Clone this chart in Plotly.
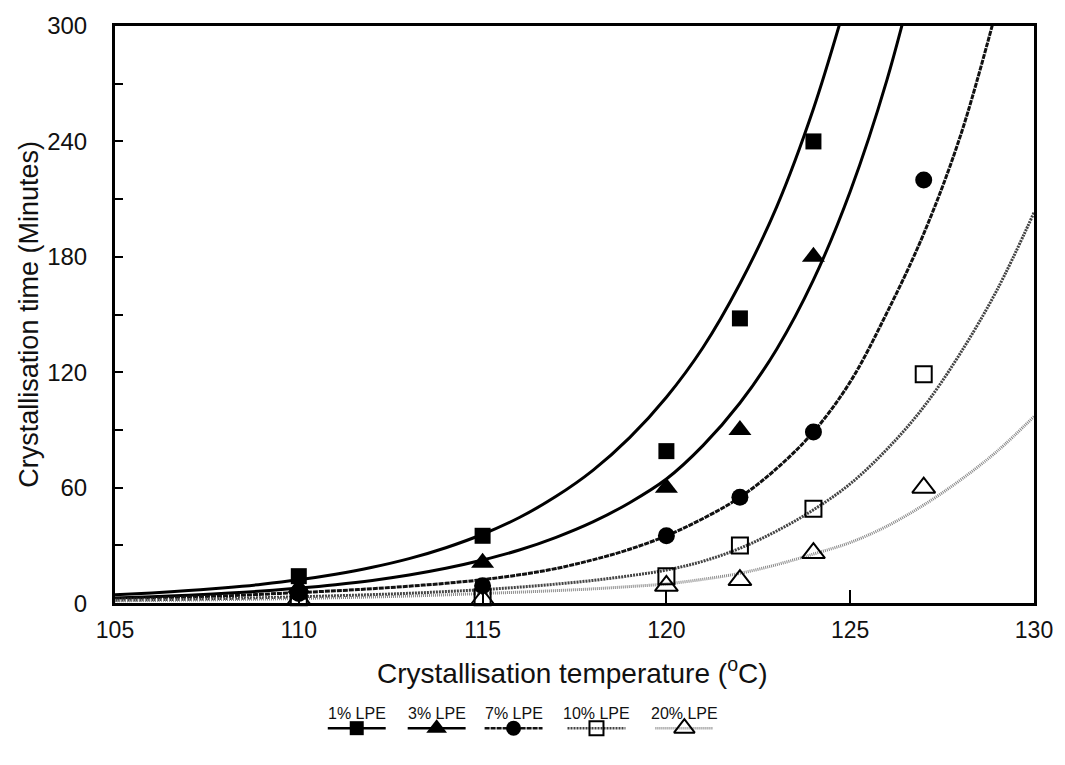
import plotly.graph_objects as go

# ---------------- data ----------------
series_names = ["1% LPE", "3% LPE", "7% LPE", "10% LPE", "20% LPE"]

# measured points
t_1 = [110, 115, 120, 122, 124]
v_1 = [14, 35, 79, 148, 240]
t_3 = [110, 115, 120, 122, 124]
v_3 = [8, 21, 60, 90, 180]
t_7 = [110, 115, 120, 122, 124, 127]
v_7 = [5, 9, 35, 55, 89, 220]
t_10 = [110, 115, 120, 122, 124, 127]
v_10 = [3, 3, 14, 30, 49, 119]
t_20 = [110, 115, 120, 122, 124, 127]
v_20 = [2, 2, 9, 12, 26, 60]

# fitted curves
ct_1 = [105, 106, 107, 108, 109, 110, 111, 112, 113, 114, 115, 116, 117, 118, 119, 120, 121, 122, 123, 124, 125]
cv_1 = [4.3, 5.3, 6.5, 8.0, 9.8, 12.1, 15.0, 18.6, 23.1, 28.8, 35.8, 44.5, 55.5, 69, 86, 107, 133, 166, 206, 257, 320]
ct_3 = [105, 106, 107, 108, 109, 110, 111, 112, 113, 114, 115, 116, 117, 118, 119, 120, 121, 122, 123, 124, 125, 126, 127]
cv_3 = [2.7, 3.3, 4.1, 5.1, 6.3, 7.8, 9.6, 11.8, 14.6, 18.1, 22.4, 27.6, 34.2, 42.2, 52.2, 64.5, 82, 104, 132, 168, 214, 272, 345]
ct_7 = [105, 106, 107, 108, 109, 110, 111, 112, 113, 114, 115, 116, 117, 118, 119, 120, 121, 122, 123, 124, 125, 126, 127, 128, 129]
cv_7 = [2.3, 2.7, 3.2, 3.8, 4.6, 5.5, 6.4, 7.5, 8.8, 10.3, 12.2, 14.7, 18, 22.5, 28, 35, 44, 55, 70, 89, 115, 151, 192, 243, 310]
ct_10 = [105, 106, 107, 108, 109, 110, 111, 112, 113, 114, 115, 116, 117, 118, 119, 120, 121, 122, 123, 124, 125, 126, 127, 128, 129, 130]
cv_10 = [1.5, 1.75, 2.05, 2.4, 2.8, 3.3, 3.8, 4.4, 5.1, 6.0, 7.0, 8.3, 9.9, 11.8, 14.2, 17.2, 21.8, 28.5, 37.5, 48.5, 62, 80, 102, 130, 163, 203]
ct_20 = [105, 106, 107, 108, 109, 110, 111, 112, 113, 114, 115, 116, 117, 118, 119, 120, 121, 122, 123, 124, 125, 126, 127, 128, 129, 130]
cv_20 = [1.2, 1.4, 1.6, 1.85, 2.1, 2.4, 2.8, 3.2, 3.7, 4.3, 5.0, 5.7, 6.5, 7.4, 8.6, 10.0, 12.4, 15.5, 20, 25.5, 31.5, 40, 51, 64, 79, 97]

x_ticks = [105, 110, 115, 120, 125, 130]
y_ticks = [0, 60, 120, 180, 240, 300]

# ---------------- styles ----------------
FONT = "Liberation Sans, Arial, Helvetica, sans-serif"
styles = [
    dict(line=dict(color="#000000", width=3), symbol="square", size=16, mcolor="#000000", open=False),
    dict(line=dict(color="#000000", width=3), symbol="triangle-up", size=20, mcolor="#000000", open=False),
    dict(line=dict(color="#111111", width=3, dash="5px,1px"), symbol="circle", size=17, mcolor="#000000", open=False),
    dict(line=dict(color="#444444", width=3, dash="2px,1px"), symbol="square-open", size=16, mcolor="#000000", open=True),
    dict(line=dict(color="#888888", width=3, dash="1px,1px"), symbol="triangle-up-open", size=20, mcolor="#000000", open=True),
]

points = [(t_1, v_1), (t_3, v_3), (t_7, v_7), (t_10, v_10), (t_20, v_20)]
curves = [(ct_1, cv_1), (ct_3, cv_3), (ct_7, cv_7), (ct_10, cv_10), (ct_20, cv_20)]

fig = go.Figure()

for (cx, cy), st in zip(curves, styles):
    ln = dict(st["line"])
    ln["shape"] = "spline"
    ln["smoothing"] = 1.0
    fig.add_trace(go.Scatter(x=cx, y=cy, mode="lines", line=ln,
                             showlegend=False, hoverinfo="skip"))

for (px, py), st, name in zip(points, styles, series_names):
    fig.add_trace(go.Scatter(
        x=px, y=py, mode="markers", name=name, showlegend=False,
        marker=dict(symbol=st["symbol"], size=st["size"], color=st["mcolor"],
                    line=dict(color="#000000", width=2 if st["open"] else 0)),
        cliponaxis=False))

# ---------------- custom legend (text above a line+symbol sample) ----------------
leg_centers = [357, 437, 514, 597, 685]
leg_half = 29
leg_line_y = 733
leg_text_y = 718
for name, st, cx in zip(series_names, styles, leg_centers):
    ln = dict(st["line"])
    ln["width"] = 2.5
    fig.add_trace(go.Scatter(x=[cx - leg_half, cx + leg_half], y=[leg_line_y, leg_line_y],
                             mode="lines", line=ln, xaxis="x2", yaxis="y2",
                             showlegend=False, hoverinfo="skip"))
    fig.add_trace(go.Scatter(x=[cx], y=[leg_line_y], mode="markers", xaxis="x2", yaxis="y2",
                             marker=dict(symbol=st["symbol"], size=st["size"] - 2, color=st["mcolor"],
                                         line=dict(color="#000000", width=2 if st["open"] else 0)),
                             showlegend=False, hoverinfo="skip", cliponaxis=False))
    fig.add_annotation(x=cx, y=leg_text_y, xref="x2", yref="y2", text=name, showarrow=False,
                       font=dict(family=FONT, size=16, color="#111111"),
                       xanchor="center", yanchor="middle")

# ---------------- axis titles ----------------
fig.add_annotation(x=(573 - 115) / 920, y=(745 - 675) / 725, xref="paper", yref="paper",
                   text="Crystallisation temperature (<sup>o</sup>C)", showarrow=False,
                   font=dict(family=FONT, size=28, color="#111111"),
                   xanchor="center", yanchor="middle")
fig.add_annotation(x=(28 - 115) / 920, y=(745 - 313) / 725, xref="paper", yref="paper",
                   text="Crystallisation time (Minutes)", showarrow=False, textangle=-90,
                   font=dict(family=FONT, size=27, color="#111111"),
                   xanchor="center", yanchor="middle")

fig.update_layout(
    width=1065, height=765,
    margin=dict(l=115, r=30, t=20, b=20),
    paper_bgcolor="#ffffff", plot_bgcolor="#ffffff",
    showlegend=False,
    xaxis=dict(range=[105, 130], tickvals=x_ticks, ticks="inside", ticklen=13, tickwidth=2,
               tickcolor="#000000", showline=True, linecolor="#000000", linewidth=3, mirror=True,
               showgrid=False, zeroline=False, anchor="y", domain=[0, 1],
               tickfont=dict(family=FONT, size=23, color="#111111"), ticklabelstandoff=4),
    yaxis=dict(range=[0, 300], tickvals=y_ticks, ticks="inside", ticklen=8,
               tickwidth=2, tickcolor="#000000", showline=True, linecolor="#000000", linewidth=3,
               mirror=True, showgrid=False, zeroline=False, anchor="x",
               minor=dict(dtick=30, ticks="inside", ticklen=8, tickwidth=2, tickcolor="#000000",
                          showgrid=False),
               domain=[(745 - 606) / 725, 1],
               tickfont=dict(family=FONT, size=24, color="#111111"), ticklabelstandoff=20),
    xaxis2=dict(range=[115, 1035], domain=[0, 1], anchor="y2", visible=False, fixedrange=True),
    yaxis2=dict(range=[745, 606], domain=[0, (745 - 606) / 725], anchor="x2", visible=False,
                fixedrange=True),
)

fig.write_html("out.html")
